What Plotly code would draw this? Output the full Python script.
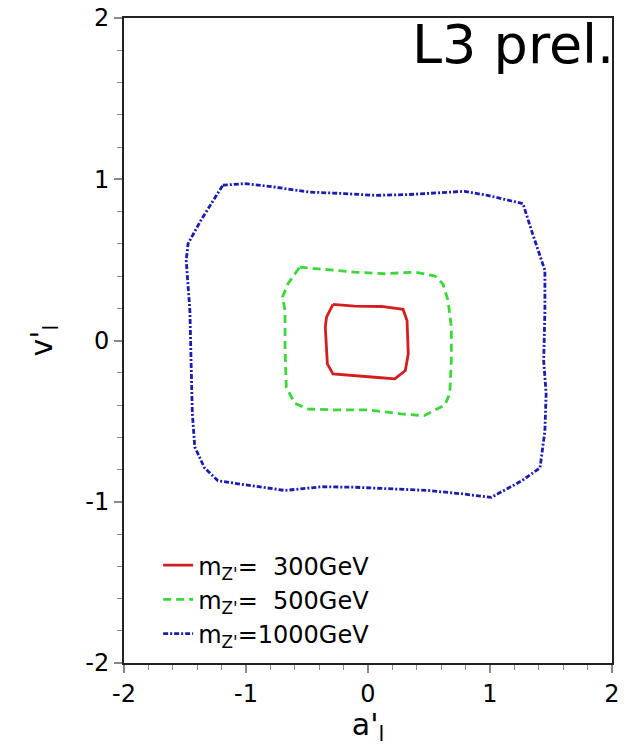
import plotly.graph_objects as go

# 95% CL exclusion contours in the (a'_l, v'_l) plane for three Z' masses
a_300 = [-0.287, -0.11, 0.11, 0.287, 0.32, 0.33, 0.306, 0.22, 0.055, -0.164, -0.287, -0.333, -0.35, -0.34, -0.287]
v_300 = [0.224, 0.213, 0.211, 0.193, 0.124, -0.083, -0.186, -0.238, -0.228, -0.217, -0.207, -0.145, 0.083, 0.145, 0.224]

a_500 = [-0.56, -0.355, -0.11, 0.137, 0.38, 0.55, 0.615, 0.656, 0.683, 0.683, 0.67, 0.63, 0.46, 0.27, 0.0,
         -0.27, -0.49, -0.60, -0.67, -0.68, -0.68, -0.70, -0.656, -0.56]
v_500 = [0.455, 0.439, 0.424, 0.414, 0.424, 0.40, 0.35, 0.248, 0.083, -0.124, -0.33, -0.40, -0.466, -0.455, -0.43,
         -0.43, -0.425, -0.39, -0.29, -0.04, 0.186, 0.27, 0.352, 0.455]

a_1000 = [-1.19, -1.01, -0.77, -0.49, -0.19, 0.055, 0.33, 0.55, 0.79, 0.98, 1.27, 1.35, 1.45, 1.45, 1.44, 1.46,
          1.45, 1.41, 1.26, 1.01, 0.76, 0.49, 0.22, -0.11, -0.38, -0.68, -0.96, -1.23, -1.34, -1.42, -1.44,
          -1.45, -1.46, -1.49, -1.475, -1.37, -1.19]
v_1000 = [0.963, 0.973, 0.952, 0.921, 0.911, 0.90, 0.905, 0.915, 0.925, 0.90, 0.849, 0.66, 0.435, 0.186, -0.124,
          -0.33, -0.56, -0.79, -0.87, -0.973, -0.95, -0.93, -0.92, -0.91, -0.907, -0.93, -0.90, -0.87, -0.79,
          -0.66, -0.45, -0.124, 0.186, 0.497, 0.60, 0.745, 0.963]

names = ["m<sub>Z'</sub>=&nbsp;&nbsp;300GeV", "m<sub>Z'</sub>=&nbsp;&nbsp;500GeV", "m<sub>Z'</sub>=1000GeV"]
x_ticks = [-2, -1, 0, 1, 2]
x_tick_text = ["-2", "-1", "0", "1", "2"]
y_ticks = [-2, -1, 0, 1, 2]
y_tick_text = ["-2", "-1", "0", "1", "2"]

FONT = "DejaVu Sans, Arial, Helvetica, sans-serif"

fig = go.Figure()
fig.add_trace(go.Scatter(x=a_300, y=v_300, mode="lines", name=names[0],
                         line=dict(color="#d41e1e", width=2.8)))
fig.add_trace(go.Scatter(x=a_500, y=v_500, mode="lines", name=names[1],
                         line=dict(color="#3ad83a", width=2.8, dash="8px,5px")))
fig.add_trace(go.Scatter(x=a_1000, y=v_1000, mode="lines", name=names[2],
                         line=dict(color="#1c1cb0", width=2.8, dash="5px,2px,2px,2px")))

axis_common = dict(
    range=[-2, 2],
    tickmode="array",
    ticks="outside",
    ticklen=8,
    tickwidth=1.5,
    tickcolor="#888888",
    showgrid=False,
    zeroline=False,
    showline=True,
    linecolor="#222222",
    linewidth=2,
    mirror=True,
    automargin=False,
    tickfont=dict(family=FONT, size=24, color="black"),
    minor=dict(tickmode="linear", tick0=-2, dtick=0.2, ticks="outside", ticklen=5,
               tickwidth=1.2, tickcolor="#888888", showgrid=False),
)

fig.update_xaxes(**axis_common, tickvals=x_ticks, ticktext=x_tick_text,
                 title=dict(text="a'<sub>l</sub>", font=dict(family=FONT, size=30, color="black"), standoff=2))
fig.update_yaxes(**axis_common, tickvals=y_ticks, ticktext=y_tick_text,
                 title=dict(text="v'<sub>l</sub>", font=dict(family=FONT, size=30, color="black"), standoff=24))

fig.add_annotation(text="L3 prel.", xref="paper", yref="paper", x=1, y=1,
                   xanchor="right", yanchor="top", showarrow=False, xshift=4, yshift=7,
                   font=dict(family=FONT, size=54, color="black"))

fig.update_layout(
    width=631, height=746,
    margin=dict(l=124, r=19, t=18, b=83, autoexpand=False),
    plot_bgcolor="white", paper_bgcolor="white",
    font=dict(family=FONT, color="black"),
    legend=dict(x=0.07, y=0.186, xanchor="left", yanchor="top",
                bgcolor="rgba(0,0,0,0)", font=dict(family=FONT, size=24, color="black"),
                itemwidth=30, tracegroupgap=0),
)

fig.write_html("out.html")
